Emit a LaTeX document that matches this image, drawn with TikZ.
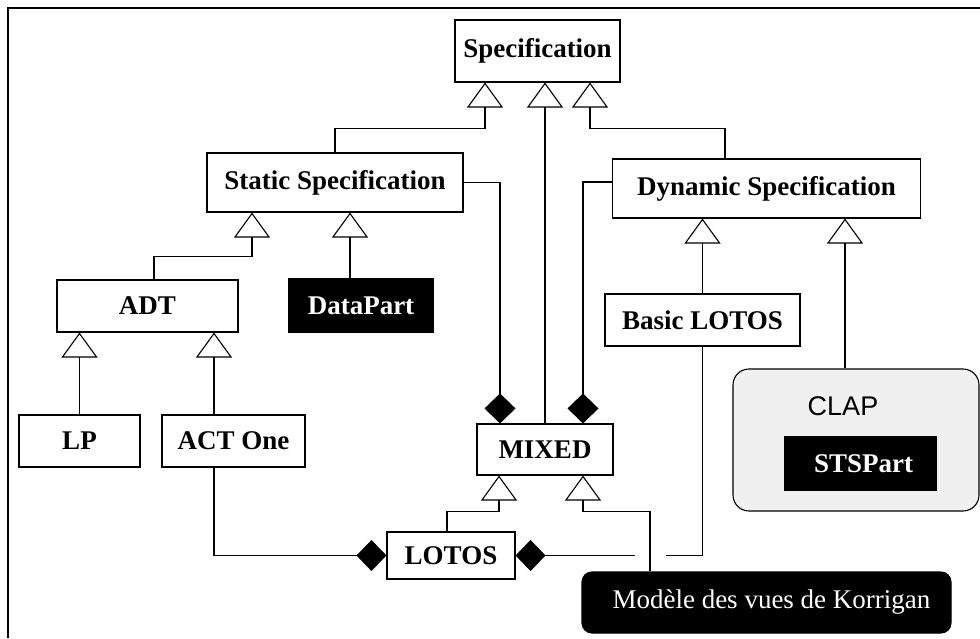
\documentclass[tikz,border=0pt]{standalone}
\usepackage{fontspec}
\setmainfont{Liberation Serif}
\newfontfamily\clapfont{Liberation Sans}
\usetikzlibrary{arrows.meta,calc}
\definecolor{paleback}{RGB}{240,240,240}

\begin{document}
\begin{tikzpicture}[x=1pt, y=1pt, line width=1.1pt,
  cls/.style={draw, fill=white, inner sep=0pt, font=\fontsize{27}{32}\selectfont\bfseries},
  dark/.style={cls, fill=black, text=white},
  isa/.style={-{Triangle[open, length=25pt, width=36pt]}},
  part/.style={-{Diamond[length=30pt, width=31pt]}},
]
  \useasboundingbox (0,0) rectangle (980,638);
  \draw[line width=2.2pt] (8,0) -- (8,630) -- (980,630);

  \node[cls, minimum width=165pt, minimum height=62pt] (spec) at (537.5,587) {Specification};
  \node[cls, minimum width=256pt, minimum height=59pt] (stat) at (335,455.5) {Static Specification};
  \node[cls, minimum width=308pt, minimum height=59pt] (dyn) at (766.5,449.5) {Dynamic Specification\hspace{20pt}};
  \node[cls, minimum width=181pt, minimum height=52pt] (adt) at (147.5,332) {ADT};
  \node[dark, minimum width=144pt, minimum height=53pt] (data) at (361,332.5) {DataPart\hspace{6pt}};
  \node[cls, minimum width=121pt, minimum height=52pt] (lp) at (79.5,197) {LP};
  \node[cls, minimum width=143pt, minimum height=52pt] (act) at (233.5,197) {ACT One};
  \node[cls, minimum width=136pt, minimum height=51pt] (mixed) at (545,188.5) {MIXED};
  \node[cls, minimum width=128pt, minimum height=47pt] (lotos) at (451,82.5) {LOTOS};
  \node[cls, minimum width=195pt, minimum height=52pt] (basic) at (702.5,318) {Basic LOTOS};
  \node[draw, fill=paleback, rounded corners=16pt, minimum width=246pt, minimum height=142pt] (clap) at (856,198) {};
  \node[font=\clapfont\fontsize{27}{32}\selectfont] (claplabel) at (843,232) {CLAP};
  \node[dark, minimum width=151pt, minimum height=53pt] (sts) at (860.5,174.5) {\hspace{6pt}STSPart};
  \node[dark, rounded corners=10pt, font=\fontsize{27}{32}\selectfont, minimum width=369pt, minimum height=61pt] (korr) at (766.5,35.5) {\hspace{10pt}Modèle des vues de Korrigan};
  \coordinate (cross) at (650,82.5);

  \draw[isa] (stat.north) -- ++(0,24) -| ([xshift=-52.5pt]spec.south);
  \draw[isa] (mixed.north) -- (mixed.north |- spec.south);
  \draw[isa] ([xshift=-41.5pt]dyn.north) -- ++(0,30) -| ([xshift=52.5pt]spec.south);
  \draw[isa] ([xshift=6.5pt]adt.north) -- ++(0,23) -| ([xshift=-83pt]stat.south);
  \draw[isa] ([xshift=-11pt]data.north) -- ([xshift=-11pt]data.north |- stat.south);
  \draw[isa] (lp.north) -- (lp.north |- adt.south);
  \draw[isa] ([xshift=-19.5pt]act.north) -- ([xshift=-19.5pt]act.north |- adt.south);
  \draw[isa] (basic.north) -- (basic.north |- dyn.south);
  \draw[isa] ([xshift=-11pt]clap.north) -- ([xshift=-11pt]clap.north |- dyn.south);
  \draw[part] (stat.east) -| ([xshift=-45pt]mixed.north);
  \draw[part] ([yshift=6.5pt]dyn.west) -| ([xshift=38pt]mixed.north);
  \draw[isa] ([xshift=-4pt]lotos.north) -- ++(0,20) -| ([xshift=-46pt]mixed.south);
  \draw[isa] (cross |- korr.north) -- ++(0,60) -| ([xshift=38pt]mixed.south);
  \draw[part] ([xshift=-19.5pt]act.south) |- (lotos.west);
  \draw (basic.south) |- ([xshift=16pt]cross);
  \draw[part] ([xshift=-15pt]cross) -- (lotos.east);
\end{tikzpicture}
\end{document}
